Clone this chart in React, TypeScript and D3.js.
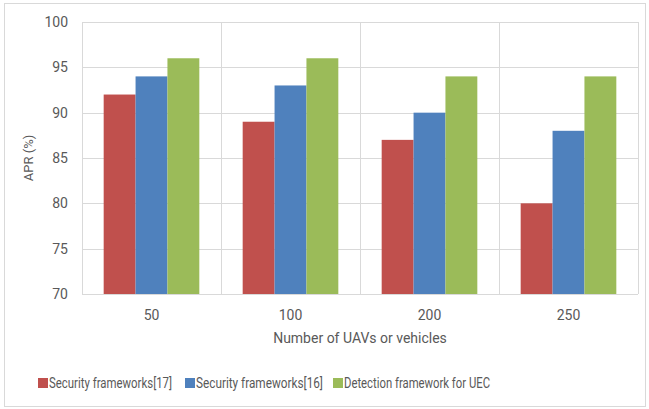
import React, { useEffect, useRef } from 'react';
import * as d3 from 'd3';

const categories = ['50', '100', '200', '250'];
const seriesNames = ['Security frameworks[17]', 'Security frameworks[16]', 'Detection framework for UEC'];
const sec17 = [92, 89, 87, 80];
const sec16 = [94, 93, 90, 88];
const detection = [96, 96, 94, 94];
const yTicks = [70, 75, 80, 85, 90, 95, 100];
const colors = ['#C0504D', '#4F81BD', '#9BBB59'];

const App: React.FC = () => {
  const svgRef = useRef<SVGSVGElement>(null);

  useEffect(() => {
    if (!svgRef.current) return;
    const width = 649;
    const height = 409;
    const svg = d3.select(svgRef.current);
    svg.selectAll('*').remove();

    const font = 'Roboto, "Noto Sans", sans-serif';
    const textColor = '#595959';
    const left = 82, right = 638, top = 22, bottom = 294;

    // outer frame
    svg.append('rect')
      .attr('x', 4.5).attr('y', 3.5)
      .attr('width', width - 8).attr('height', height - 6)
      .attr('fill', '#fff').attr('stroke', '#d9d9d9');

    const x = d3.scaleBand().domain(categories).range([left, right]);
    const y = d3.scaleLinear().domain([70, 100]).range([bottom, top]);
    const inner = d3.scaleBand().domain(['0', '1', '2'])
      .range([0, x.bandwidth()]).paddingOuter(0.68);

    // horizontal gridlines
    svg.append('g').selectAll('line').data(yTicks).join('line')
      .attr('x1', left).attr('x2', right)
      .attr('y1', d => Math.round(y(d)) + 0.5).attr('y2', d => Math.round(y(d)) + 0.5)
      .attr('stroke', '#d9d9d9');

    // vertical category separators
    const seps = [...categories.map(c => x(c)!), right];
    svg.append('g').selectAll('line').data(seps).join('line')
      .attr('x1', d => Math.round(d) + 0.5).attr('x2', d => Math.round(d) + 0.5)
      .attr('y1', top).attr('y2', bottom)
      .attr('stroke', '#d9d9d9');

    const series = [sec17, sec16, detection];
    series.forEach((vals, si) => {
      svg.append('g').selectAll('rect').data(vals).join('rect')
        .attr('x', (d, i) => x(categories[i])! + inner(String(si))!)
        .attr('width', inner.bandwidth())
        .attr('y', d => y(d))
        .attr('height', d => bottom - y(d))
        .attr('fill', colors[si]);
    });

    // y tick labels
    svg.append('g').selectAll('text').data(yTicks).join('text')
      .attr('x', 68).attr('y', d => y(d))
      .attr('dy', '0.35em')
      .attr('text-anchor', 'end')
      .attr('font-family', font).attr('font-size', 14)
      .attr('fill', textColor)
      .text(d => d);

    // x tick labels
    svg.append('g').selectAll('text').data(categories).join('text')
      .attr('x', d => x(d)! + x.bandwidth() / 2).attr('y', 320)
      .attr('text-anchor', 'middle')
      .attr('font-family', font).attr('font-size', 14)
      .attr('fill', textColor)
      .text(d => d);

    // axis titles
    svg.append('text')
      .attr('transform', `translate(33, ${(top + bottom) / 2}) rotate(-90)`)
      .attr('text-anchor', 'middle')
      .attr('font-family', font).attr('font-size', 13)
      .attr('fill', textColor)
      .text('APR (%)');

    svg.append('text')
      .attr('x', (left + right) / 2).attr('y', 343)
      .attr('text-anchor', 'middle')
      .attr('font-family', font).attr('font-size', 14)
      .attr('fill', textColor)
      .text('Number of UAVs or vehicles');

    // legend
    const legendX = [38, 185, 333];
    const legendW = [123, 127, 146];
    seriesNames.forEach((name, i) => {
      const g = svg.append('g').attr('transform', `translate(${legendX[i]}, 383)`);
      g.append('rect').attr('x', 0).attr('y', -5).attr('width', 10).attr('height', 10)
        .attr('fill', colors[i]);
      g.append('text').attr('x', 11).attr('y', 0).attr('dy', '0.35em')
        .attr('font-family', font).attr('font-size', 14)
        .attr('textLength', legendW[i]).attr('lengthAdjust', 'spacingAndGlyphs')
        .attr('fill', textColor)
        .text(name);
    });
  }, []);

  return (
    <svg ref={svgRef} width={649} height={409} viewBox="0 0 649 409"
      style={{ position: 'absolute', left: 0, top: 0 }} />
  );
};

export default App;
